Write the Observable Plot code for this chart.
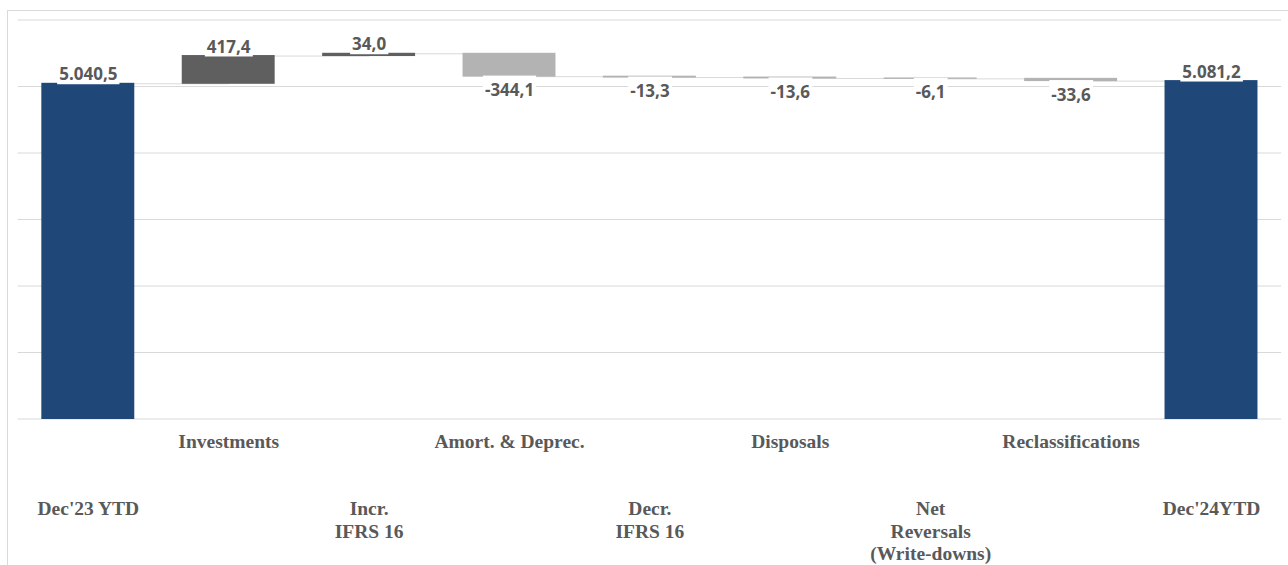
<!DOCTYPE html>
<html>
<head>
<meta charset="utf-8">
<script src="https://cdn.jsdelivr.net/npm/d3@7"></script>
<script src="https://cdn.jsdelivr.net/npm/@observablehq/plot@0.6"></script>
<style>
  html, body { margin: 0; padding: 0; background: #fff; }
  #wrap { position: relative; width: 1288px; height: 565px; overflow: hidden; }
  #frame { position: absolute; left: 7px; top: 10px; width: 1290px; height: 560px;
           border-left: 1px solid #D9D9D9; border-top: 1px solid #D9D9D9; pointer-events: none; box-sizing: border-box; }
</style>
</head>
<body>
<div id="wrap"><div id="frame"></div></div>
<script>
// ---- data ----
const categories = ["Dec'23 YTD", "Investments", "Incr. IFRS 16", "Amort. & Deprec.", "Decr. IFRS 16",
                    "Disposals", "Net Reversals (Write-downs)", "Reclassifications", "Dec'24YTD"];
const tickLabels = ["Dec'23 YTD", "Investments", "Incr.\nIFRS 16", "Amort. & Deprec.", "Decr.\nIFRS 16",
                    "Disposals", "Net\nReversals\n(Write-downs)", "Reclassifications", "Dec'24YTD"];
const values = [5040.5, 417.4, 34.0, -344.1, -13.3, -13.6, -6.1, -33.6, 5081.2];
const kinds = ["total", "up", "up", "down", "down", "down", "down", "down", "total"];
const gridTicks = [0, 1000, 2000, 3000, 4000, 5000, 6000];

// ---- build waterfall table ----
const colors = {total: "#1F4778", up: "#5F5F5F", down: "#B3B3B3"};
let running = 0;
const rows = categories.map((c, i) => {
  const v = values[i];
  let y1, y2;
  if (kinds[i] === "total") { y1 = 0; y2 = v; running = v; }
  else { y1 = running; y2 = running + v; running = y2; }
  return {cat: c, label: tickLabels[i], value: v, kind: kinds[i], y1, y2,
          top: Math.max(y1, y2), bottom: Math.min(y1, y2), end: y2, i};
});
const links = rows.slice(0, -1).map((r, i) => ({a: r.cat, b: rows[i + 1].cat, level: r.end}));

const loc = d3.formatLocale({decimal: ",", thousands: ".", grouping: [3], currency: ["", ""], minus: "-"});
const fmt = loc.format(",.1f");

const above = rows.filter(r => r.kind !== "down");
const below = rows.filter(r => r.kind === "down");

const serif = "'Liberation Serif', 'DejaVu Serif', serif";
const sans = "'Open Sans', 'Liberation Sans', sans-serif";
const textColor = "#595959";

const chart = Plot.plot({
  width: 1288,
  height: 565,
  marginLeft: 17.6,
  marginRight: 6.8,
  marginTop: 19.5,
  marginBottom: 146.5,
  x: {domain: categories, paddingInner: 0.338, paddingOuter: 0.169, round: false, axis: null},
  y: {domain: [0, 6000], axis: null},
  marks: [
    Plot.gridY(gridTicks, {stroke: "#D9D9D9", strokeOpacity: 1, strokeWidth: 1}),
    Plot.link(links, {x1: "a", x2: "b", y1: "level", y2: "level", stroke: "#D9D9D9", strokeWidth: 1}),
    Plot.barY(rows, {x: "cat", y1: "bottom", y2: "top", fill: d => colors[d.kind],
                     insetTop: -0.5, insetBottom: -0.5}),
    // category labels
    Plot.text(rows.filter(r => r.i % 2 === 1), {x: "cat", text: "label", frameAnchor: "bottom",
      lineAnchor: "top", dy: 12.7, fontSize: 19.5, fontWeight: "bold", fontFamily: serif, fill: textColor,
      lineHeight: 1.15}),
    Plot.text(rows.filter(r => r.i % 2 === 0), {x: "cat", text: "label", frameAnchor: "bottom",
      lineAnchor: "top", dy: 80.5, fontSize: 19.5, fontWeight: "bold", fontFamily: serif, fill: textColor,
      lineHeight: 1.15}),
    // value labels
    Plot.text(above, {x: "cat", y: "top", text: d => fmt(d.value), lineAnchor: "middle", dy: -9,
      fontSize: 17, fontWeight: "bold", fontFamily: sans, fill: textColor, className: "vlabels"}),
    Plot.text(below, {x: "cat", y: "bottom", text: d => fmt(d.value), lineAnchor: "middle", dy: 14,
      fontSize: 17, fontWeight: "bold", fontFamily: sans, fill: textColor, className: "vlabels"})
  ]
});

document.getElementById("wrap").insertBefore(chart, document.getElementById("frame"));

// white label boxes behind value labels (as in the original)
let groups = [...chart.querySelectorAll("g.vlabels")];
if (!groups.length) groups = [...chart.querySelectorAll('g[aria-label="text"]')].slice(-2);
groups.forEach((g, gi) => {
  g.querySelectorAll("text").forEach(t => {
    const b = t.getBBox();
    const r = document.createElementNS("http://www.w3.org/2000/svg", "rect");
    const trimTop = gi === 0 ? 2 : -2.5;
    const trimBottom = gi === 0 ? 1 : 1;
    r.setAttribute("x", b.x - 2);
    r.setAttribute("y", b.y + trimTop);
    r.setAttribute("width", b.width + 4);
    r.setAttribute("height", b.height - trimTop - trimBottom);
    r.setAttribute("fill", "white");
    r.setAttribute("stroke", "none");
    const tr = t.getAttribute("transform");
    if (tr) r.setAttribute("transform", tr);
    t.parentNode.insertBefore(r, t);
  });
});
</script>
</body>
</html>
